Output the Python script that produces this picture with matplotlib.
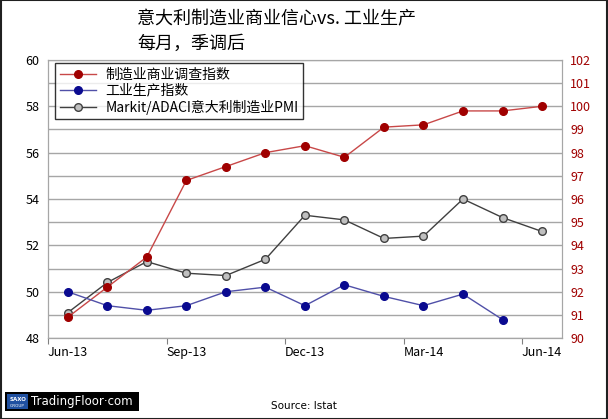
import matplotlib.pyplot as plt
from matplotlib.patches import Rectangle

plt.rcParams['font.family'] = ['Noto Sans CJK SC', 'DejaVu Sans']

months = ['Jun-13', 'Jul-13', 'Aug-13', 'Sep-13', 'Oct-13', 'Nov-13', 'Dec-13',
          'Jan-14', 'Feb-14', 'Mar-14', 'Apr-14', 'May-14', 'Jun-14']
tick_labels = ['Jun-13', 'Sep-13', 'Dec-13', 'Mar-14', 'Jun-14']

# right axis
confidence = [90.9, 92.2, 93.5, 96.8, 97.4, 98.0, 98.3, 97.8, 99.1, 99.2, 99.8, 99.8, 100.0]
production = [92.0, 91.4, 91.2, 91.4, 92.0, 92.2, 91.4, 92.3, 91.8, 91.4, 91.9, 90.8]
# left axis
pmi = [49.1, 50.4, 51.3, 50.8, 50.7, 51.4, 53.3, 53.1, 52.3, 52.4, 54.0, 53.2, 52.6]

fig = plt.figure(figsize=(6.08, 4.19), dpi=100)
ax = fig.add_axes([0.079, 0.193, 0.845, 0.664])
ax2 = ax.twinx()

x = list(range(len(months)))

ax.set_ylim(48, 60)
ax.set_yticks(range(48, 61, 2))
ax.set_yticks(range(48, 61), minor=True)
ax.grid(True, which='both', axis='y', color='#a6a6a6', linewidth=1)
ax.set_axisbelow(True)
ax.set_xlim(-0.5, 12.5)
ax.set_xticks([-0.5, 2.5, 5.5, 8.5, 11.5])
ax.set_xticklabels([])
ax.set_xticks([0, 3, 6, 9, 12], minor=True)
ax.set_xticklabels(tick_labels, minor=True)
ax.tick_params(axis='x', which='major', length=4, color='#808080')
ax.tick_params(axis='x', which='minor', length=0, labelsize=9, pad=6)
ax.tick_params(axis='y', which='both', length=0, labelsize=9, pad=6)

ax2.set_ylim(90, 102)
ax2.set_yticks(range(90, 103))
ax2.tick_params(axis='y', length=0, labelsize=9, labelcolor='#a00000', pad=6)

for a in (ax, ax2):
    for s in a.spines.values():
        s.set_color('#a6a6a6')
ax.spines['left'].set_color('#808080')
ax.spines['bottom'].set_color('#808080')

ms = 5.5
l1, = ax2.plot(x, confidence, color='#c84848', linewidth=1, marker='o', markersize=ms,
               markerfacecolor='#a00000', markeredgecolor='#a00000', label='制造业商业调查指数')
l2, = ax2.plot(x[:len(production)], production, color='#5050a8', linewidth=1, marker='o',
               markersize=ms, markerfacecolor='#0a0a90', markeredgecolor='#0a0a90',
               label='工业生产指数')
l3, = ax.plot(x, pmi, color='#404040', linewidth=1, marker='o', markersize=ms,
              markerfacecolor='#c0c0c0', markeredgecolor='#404040',
              label='Markit/ADACI意大利制造业PMI')

leg = ax2.legend(handles=[l1, l2, l3], loc='upper left', bbox_to_anchor=(0.013, 0.988),
                 fontsize=10, frameon=True, fancybox=False, edgecolor='black',
                 borderpad=0.35, labelspacing=0.12, handlelength=2.6, borderaxespad=0,
                 handletextpad=0.7)
leg.get_frame().set_linewidth(1)

fig.text(0.226, 0.943, '意大利制造业商业信心vs. 工业生产', fontsize=13)
fig.text(0.226, 0.883, '每月，季调后', fontsize=13)

# footer
fig.patches.append(Rectangle((0.008, 0.019), 0.22, 0.046, transform=fig.transFigure,
                             facecolor='black', edgecolor='none'))
fig.patches.append(Rectangle((0.012, 0.024), 0.034, 0.036, transform=fig.transFigure,
                             facecolor='#2050a0', edgecolor='none'))
fig.text(0.029, 0.047, 'SAXO', fontsize=4, color='white', ha='center', va='center',
         family='DejaVu Sans', weight='bold')
fig.text(0.029, 0.032, 'GROUP', fontsize=3, color='white', ha='center', va='center',
         family='DejaVu Sans')
fig.text(0.135, 0.042, 'TradingFloor·com', fontsize=8.5, color='white', ha='center',
         va='center', family='DejaVu Sans')
fig.text(0.5, 0.03, 'Source: Istat', fontsize=7.5, ha='center', va='center',
         family='DejaVu Sans')

fig.patches.append(Rectangle((0.001, 0.001), 0.998, 0.998, transform=fig.transFigure,
                             facecolor='none', edgecolor='#202020', linewidth=1.5))

fig.savefig('out.png', dpi=100)
